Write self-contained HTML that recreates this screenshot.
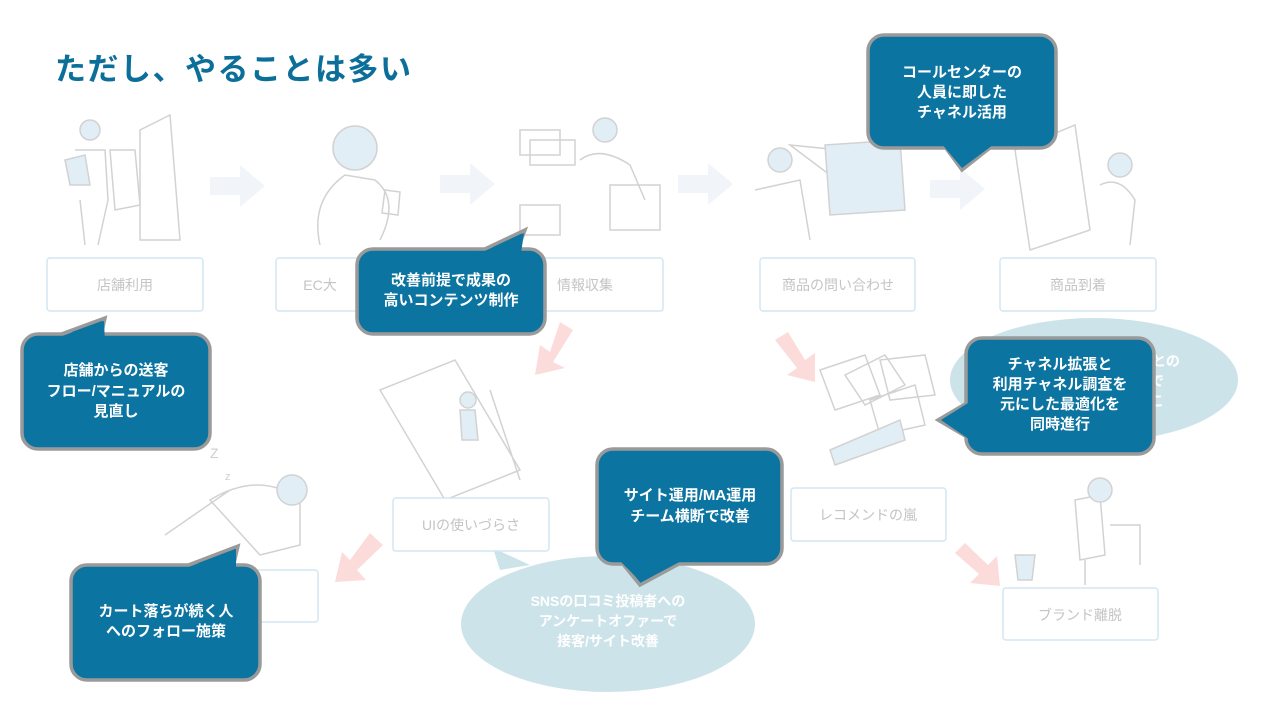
<!DOCTYPE html>
<html><head><meta charset="utf-8"><style>
html,body{margin:0;padding:0;background:#fff;}
svg{display:block;font-family:"Liberation Sans","Noto Sans CJK JP",sans-serif;}
.lb{fill:#fff;stroke:#d4e6f3;stroke-width:1.5}
.lt{fill:#c4c4c4;font-size:14px;text-anchor:middle}
.ct{fill:#fff;font-size:15px;font-weight:bold;text-anchor:middle}
.bs{fill:#0b74a0;stroke:#9a9a9a;stroke-width:3.5}
.bf{fill:#0b74a0}
.ga{fill:#f1f5f9}
.pa{fill:#fbdcdb}
.il{fill:none;stroke:#d2d2d2;stroke-width:1.5}
.ib{fill:#e1eef5;stroke:#d2d2d2;stroke-width:1.5}
</style></head><body>
<svg width="1280" height="720" viewBox="0 0 1280 720">
<text x="55" y="80" fill="#0b6f99" font-size="31" font-weight="bold" letter-spacing="1.5">ただし、やることは多い</text>

<g class="ga">
<polygon points="210,177 240,177 240,165 265,186 240,207 240,195 210,195"/>
<polygon points="440,175 470,175 470,163 495,184 470,205 470,193 440,193"/>
<polygon points="678,175 708,175 708,163 733,184 708,205 708,193 678,193"/>
<polygon points="930,180 960,180 960,168 985,189 960,210 960,198 930,198"/>
</g>
<g class="pa">
<polygon points="560,322 573,330 553,362 565,368 535,375 540,345 550,352"/>
<polygon points="775,340 788,332 805,360 815,353 815,382 787,375 797,368"/>
<polygon points="370,533 383,545 357,570 366,580 335,582 342,552 350,560"/>
<polygon points="955,553 965,543 988,565 997,556 1000,586 970,583 979,574"/>
</g>

<g>
<circle cx="90" cy="130" r="10" class="ib"/><path class="il" d="M75 150 L105 150 L108 200 L98 245 M80 200 L85 245 M140 130 L170 115 L180 240 L140 240 Z"/>
<path class="ib" d="M65 160 L85 155 L90 185 L70 185 Z"/><path class="il" d="M110 150 L135 150 L140 205 L115 210 Z"/>
<circle cx="355" cy="148" r="22" class="ib"/><path class="il" d="M320 245 Q310 200 345 175 L375 180 Q400 200 380 240 M385 190 L400 192 L398 215 L382 213 Z"/>
<path class="il" d="M520 130 L560 130 L560 155 L520 155 Z M530 140 L575 140 L575 165 L530 165 Z M520 205 L560 205 L560 235 L520 235 Z M610 185 L660 185 L660 230 L610 230 Z"/>
<circle cx="605" cy="130" r="12" class="ib"/><path class="il" d="M580 160 Q600 145 630 165 L645 200"/>
<path class="il" d="M755 190 L800 180 L810 240 M790 145 L840 150 L880 185 L830 175 Z"/><path class="ib" d="M825 145 L900 140 L905 210 L830 215 Z"/><circle cx="780" cy="160" r="12" class="ib"/>
<path class="il" d="M1015 150 L1075 125 L1090 230 L1030 250 Z"/><circle cx="1120" cy="165" r="12" class="ib"/><path class="il" d="M1100 185 Q1120 175 1135 200 L1130 245"/>
<path class="il" d="M380 390 L455 360 L520 470 L445 500 Z M490 390 L520 480"/><circle cx="468" cy="400" r="8" class="ib"/><path class="ib" d="M460 410 L475 410 L478 440 L462 440 Z"/>
<path class="il" d="M165 535 L230 490 M210 500 Q260 470 300 500 L300 545 L260 555 Z"/><circle cx="292" cy="490" r="15" class="ib"/><text x="210" y="458" fill="#cfcfcf" font-size="14">Z</text><text x="225" y="480" fill="#cfcfcf" font-size="11">z</text>
<path class="il" d="M820 370 L865 355 L880 395 L835 410 Z M845 375 L885 355 L905 385 L865 405 Z M880 360 L925 355 L935 395 L890 400 Z M870 400 L915 385 L925 425 L880 435 Z"/>
<path class="ib" d="M830 450 L900 420 L905 440 L835 465 Z"/>
<path class="il" d="M1075 500 L1100 495 L1105 555 L1080 560 Z M1085 560 L1085 585 M1110 525 L1140 525 L1140 565"/><circle cx="1100" cy="490" r="12" class="ib"/>
<path class="ib" d="M1015 555 L1035 555 L1032 580 L1018 580 Z"/>
</g>

<ellipse cx="1094" cy="380" rx="144" ry="62" fill="#cde3ea"/>
<g fill="#fff" font-size="14" font-weight="bold"><text x="1152" y="366">との</text><text x="1150" y="386">で</text><text x="1150" y="406">こ</text></g>
<path d="M493 548 L500 570 L530 565 Z" fill="#cde3ea"/>
<ellipse cx="608" cy="624" rx="147" ry="68" fill="#cde3ea"/>
<g fill="#fff" font-size="14" font-weight="bold" text-anchor="middle"><text x="608" y="606">SNSの口コミ投稿者への</text><text x="608" y="626">アンケートオファーで</text><text x="608" y="646">接客/サイト改善</text></g>

<rect class="lb" x="47" y="258" width="156" height="53" rx="3"/><text class="lt" x="125" y="290">店舗利用</text>
<rect class="lb" x="276" y="258" width="156" height="53" rx="3"/><text class="lt" x="320" y="290">EC大</text>
<rect class="lb" x="508" y="258" width="155" height="53" rx="3"/><text class="lt" x="585" y="290">情報収集</text>
<rect class="lb" x="760" y="258" width="155" height="53" rx="3"/><text class="lt" x="838" y="290">商品の問い合わせ</text>
<rect class="lb" x="1000" y="258" width="156" height="53" rx="3"/><text class="lt" x="1078" y="290">商品到着</text>
<rect class="lb" x="393" y="498" width="156" height="53" rx="3"/><text class="lt" x="471" y="530">UIの使いづらさ</text>
<rect class="lb" x="791" y="488" width="155" height="53" rx="3"/><text class="lt" x="868" y="520">レコメンドの嵐</text>
<rect class="lb" x="1003" y="588" width="155" height="52" rx="3"/><text class="lt" x="1080" y="620">ブランド離脱</text>
<rect class="lb" x="165" y="570" width="153" height="52" rx="3"/>

<g>
<polygon class="bs" points="940,140 962,170 1000,140"/><rect class="bs" x="868" y="35" width="188" height="113" rx="16"/><polygon class="bf" points="935,136 962,168 1005,136"/>
<text class="ct" x="962" y="77">コールセンターの</text><text class="ct" x="962" y="97">人員に即した</text><text class="ct" x="962" y="117">チャネル活用</text>

<polygon class="bs" points="470,256 525,230 515,256"/><rect class="bs" x="357" y="249" width="188" height="85" rx="16"/><polygon class="bf" points="465,260 524,233 520,260"/>
<text class="ct" x="451" y="285">改善前提で成果の</text><text class="ct" x="451" y="305">高いコンテンツ制作</text>

<polygon class="bs" points="45,340 105,318 100,340"/><rect class="bs" x="22" y="334" width="188" height="115" rx="16"/><polygon class="bf" points="40,344 104,321 105,344"/>
<text class="ct" x="116" y="375">店舗からの送客</text><text class="ct" x="116" y="396">フロー/マニュアルの</text><text class="ct" x="116" y="416">見直し</text>

<polygon class="bs" points="972,400 938,420 972,440"/><rect class="bs" x="966" y="338" width="188" height="116" rx="16"/><polygon class="bf" points="976,398 941,420 976,444"/>
<text class="ct" x="1060" y="369">チャネル拡張と</text><text class="ct" x="1060" y="389">利用チャネル調査を</text><text class="ct" x="1060" y="409">元にした最適化を</text><text class="ct" x="1060" y="429">同時進行</text>

<polygon class="bs" points="618,558 640,585 690,558"/><rect class="bs" x="597" y="449" width="185" height="115" rx="16"/><polygon class="bf" points="613,554 641,582 695,554"/>
<text class="ct" x="690" y="500">サイト運用/MA運用</text><text class="ct" x="690" y="521">チーム横断で改善</text>

<polygon class="bs" points="170,572 238,546 232,572"/><rect class="bs" x="71" y="565" width="189" height="115" rx="16"/><polygon class="bf" points="165,576 236,549 236,576"/>
<text class="ct" x="166" y="616">カート落ちが続く人</text><text class="ct" x="166" y="636">へのフォロー施策</text>
</g>
</svg>
</body></html>
